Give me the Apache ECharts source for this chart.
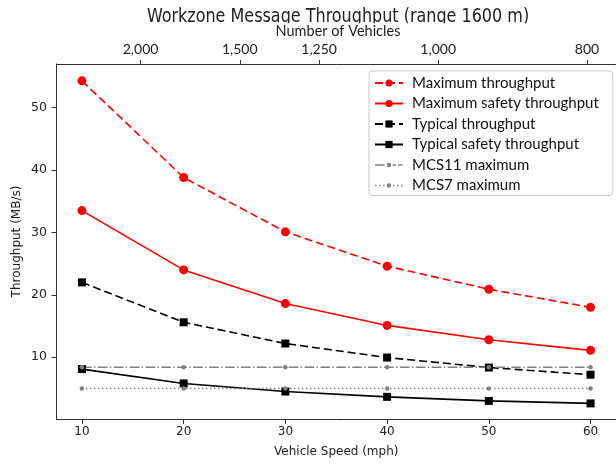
<!DOCTYPE html>
<html>
<head>
<meta charset="utf-8">
<script src="https://cdn.jsdelivr.net/npm/echarts@6/dist/echarts.min.js"></script>
<style>
html,body{margin:0;padding:0;background:#fff;}
#chart{width:616px;height:465px;}
</style>
</head>
<body>
<div id="chart"></div>
<script>
// ---- data ----
const speeds = [10, 20, 30, 40, 50, 60];
const maxThroughput = [54.3, 38.8, 30.1, 24.6, 20.9, 18.0];
const maxSafetyThroughput = [33.5, 24.0, 18.6, 15.1, 12.8, 11.1];
const typicalThroughput = [22.0, 15.6, 12.2, 9.95, 8.35, 7.2];
const typicalSafetyThroughput = [8.1, 5.8, 4.5, 3.65, 3.0, 2.6];
const mcs11Maximum = [8.4, 8.4, 8.4, 8.4, 8.4, 8.4];
const mcs7Maximum = [5.0, 5.0, 5.0, 5.0, 5.0, 5.0];
const vehicleTicks = [2000, 1500, 1250, 1000, 800];
const yTicks = [10, 20, 30, 40, 50];

// relation between number of vehicles and speed: 1/N = A*speed + B
const A = 1.709e-5, B = 2.306e-4;
const speedFor = n => (1 / n - B) / A;
const vehiclesFor = v => Math.round(1 / (A * v + B) / 50) * 50;
const topTickSpeeds = vehicleTicks.map(speedFor);

const pair = arr => speeds.map((s, i) => [s, arr[i]]);

// legend icons for the reference lines (small dot marker on a patterned line)
const mcs11Icon = 'path://M0 0M28 9M0 3.7H9.6V5.3H0Z M11.8 4.5A2.2 2.2 0 1 0 16.2 4.5A2.2 2.2 0 1 0 11.8 4.5Z M17.5 3.7H21V5.3H17.5Z M23 3.7H27.5V5.3H23Z';
const mcs7Icon = 'path://M0 0M28 9M0 3.7H1.5V5.3H0Z M4 3.7H5.5V5.3H4Z M8 3.7H9.5V5.3H8Z M11.8 4.5A2.2 2.2 0 1 0 16.2 4.5A2.2 2.2 0 1 0 11.8 4.5Z M18 3.7H19.5V5.3H18Z M22 3.7H23.5V5.3H22Z M26 3.7H27.5V5.3H26Z';

const chart = echarts.init(document.getElementById('chart'), null, {renderer: 'canvas'});
const axisColor = '#333';
const tickFont = 'DejaVu Sans';

const option = {
  animation: false,
  backgroundColor: '#fff',
  graphic: [
    {type: 'text', x: 338, y: 17.2, z: 1, scaleX: 0.889,
     style: {text: 'Workzone Message Throughput (range 1600 m)', font: '20px "DejaVu Sans Condensed"', fill: '#222', align: 'center', verticalAlign: 'middle'}},
    {type: 'rect', shape: {x: 120, y: 23.3, width: 440, height: 15}, style: {fill: '#fff'}, z: 2},
    {type: 'text', x: 338, y: 31.5, z: 3,
     style: {text: 'Number of Vehicles', font: '14.5px Lato', fill: '#222', align: 'center', verticalAlign: 'middle'}}
  ],
  grid: {left: 56.5, right: -3, top: 64, bottom: 46, containLabel: false},
  legend: {
    orient: 'vertical', left: 369, top: 71,
    padding: [4.5, 14, 2.5, 5],
    itemWidth: 28, itemHeight: 9, itemGap: 5.5,
    borderColor: '#ccc', borderWidth: 1, borderRadius: 3, backgroundColor: 'rgba(255,255,255,0.85)',
    textStyle: {fontFamily: 'Lato', fontSize: 15, color: '#111', padding: [0, 0, 0, 4]},
    data: [
      'Maximum throughput', 'Maximum safety throughput', 'Typical throughput', 'Typical safety throughput',
      {name: 'MCS11 maximum', icon: mcs11Icon, itemStyle: {color: '#808080', borderWidth: 0}},
      {name: 'MCS7 maximum', icon: mcs7Icon, itemStyle: {color: '#808080', borderWidth: 0}}
    ]
  },
  xAxis: [
    {
      type: 'value', min: 7.5, max: 62.5, position: 'bottom',
      name: 'Vehicle Speed (mph)', nameLocation: 'middle', nameGap: 27, nameMoveOverlap: false,
      nameTextStyle: {fontFamily: tickFont, fontSize: 12, color: '#222'},
      axisLine: {show: true, lineStyle: {color: axisColor, width: 1}},
      axisTick: {show: true, length: 5, lineStyle: {color: axisColor}, customValues: speeds},
      axisLabel: {customValues: speeds, fontFamily: tickFont, fontSize: 12, color: '#222', margin: 7},
      splitLine: {show: false}
    },
    {
      type: 'value', min: 7.5, max: 62.5, position: 'top',
      axisLine: {show: true, lineStyle: {color: axisColor, width: 1}},
      axisTick: {show: true, length: 4, lineStyle: {color: axisColor}, customValues: topTickSpeeds},
      axisLabel: {customValues: topTickSpeeds, fontFamily: 'Lato', fontSize: 14, color: '#222', margin: 8,
        formatter: v => vehiclesFor(v).toLocaleString('en-US')},
      splitLine: {show: false}
    }
  ],
  yAxis: {
    type: 'value', min: 0.1, max: 57,
    name: 'Throughput (MB/s)', nameLocation: 'middle', nameGap: 33.5, nameRotate: 90, nameMoveOverlap: false,
    nameTextStyle: {fontFamily: tickFont, fontSize: 12, color: '#222'},
    axisLine: {show: true, lineStyle: {color: axisColor, width: 1}},
    axisTick: {show: true, length: 5, lineStyle: {color: axisColor}, customValues: yTicks},
    axisLabel: {customValues: yTicks, fontFamily: tickFont, fontSize: 12.5, color: '#222', margin: 9.5},
    splitLine: {show: false}
  },
  series: [
    {name: 'Maximum throughput', type: 'line', data: pair(maxThroughput), symbol: 'circle', symbolSize: 9,
     itemStyle: {color: '#ff0000'}, lineStyle: {color: '#ff0000', width: 1.6, type: [8, 4]}},
    {name: 'Maximum safety throughput', type: 'line', data: pair(maxSafetyThroughput), symbol: 'circle', symbolSize: 9,
     itemStyle: {color: '#ff0000'}, lineStyle: {color: '#ff0000', width: 1.6, type: 'solid'}},
    {name: 'Typical throughput', type: 'line', data: pair(typicalThroughput), symbol: 'rect', symbolSize: 8,
     itemStyle: {color: '#000'}, lineStyle: {color: '#000', width: 1.6, type: [8, 4]}},
    {name: 'Typical safety throughput', type: 'line', data: pair(typicalSafetyThroughput), symbol: 'rect', symbolSize: 8,
     itemStyle: {color: '#000'}, lineStyle: {color: '#000', width: 1.6, type: 'solid'}},
    {name: 'MCS11 maximum', type: 'line', data: pair(mcs11Maximum), symbol: 'circle', symbolSize: 4.5,
     itemStyle: {color: '#808080'}, lineStyle: {color: '#808080', width: 1.6, type: [9.6, 2.4, 1.5, 2.4]}},
    {name: 'MCS7 maximum', type: 'line', data: pair(mcs7Maximum), symbol: 'circle', symbolSize: 4.5,
     itemStyle: {color: '#808080'}, lineStyle: {color: '#808080', width: 1.6, type: [1.5, 2.5]}}
  ]
};
chart.setOption(option);
</script>
</body>
</html>
